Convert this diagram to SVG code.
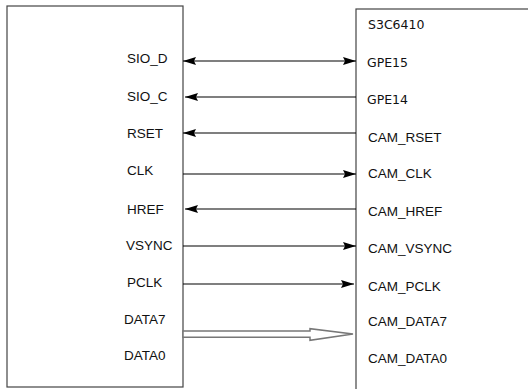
<svg xmlns="http://www.w3.org/2000/svg" width="528" height="389" viewBox="0 0 528 389">
<style>
.box{fill:#fff;stroke:#444;stroke-width:1.2}
.lbl{font-family:"Liberation Sans",Arial,sans-serif;font-size:13.5px;fill:#111}
.dv{font-family:"DejaVu Sans",sans-serif;font-size:12.5px;fill:#111}
.wire{stroke:#000;stroke-width:1.2;fill:none}
</style>
<defs>
<marker id="ah" markerUnits="userSpaceOnUse" markerWidth="13" markerHeight="8" refX="13" refY="4" orient="auto-start-reverse">
<path d="M0,0 L13,4 L0,8 L2,4 z" fill="#000"/>
</marker>
</defs>
<rect width="528" height="389" fill="#fff"/>
<g id="sensor">
<rect class="box" x="7" y="6" width="176" height="381"/>
<text class="lbl" x="127" y="63">SIO_D</text>
<text class="lbl" x="127" y="101">SIO_C</text>
<text class="lbl" x="127" y="138">RSET</text>
<text class="lbl" x="127" y="175">CLK</text>
<text class="lbl" x="127" y="214">HREF</text>
<text class="lbl" x="126" y="250">VSYNC</text>
<text class="lbl" x="127" y="287">PCLK</text>
<text class="lbl" x="124" y="324">DATA7</text>
<text class="lbl" x="124" y="360">DATA0</text>
</g>
<g id="s3c6410">
<rect class="box" x="356" y="9" width="200" height="400"/>
<text class="dv" x="368" y="29">S3C6410</text>
<text class="dv" x="367" y="67">GPE15</text>
<text class="dv" x="367" y="104">GPE14</text>
<text class="lbl" x="368" y="142">CAM_RSET</text>
<text class="lbl" x="368" y="178">CAM_CLK</text>
<text class="lbl" x="368" y="216">CAM_HREF</text>
<text class="lbl" x="368" y="253">CAM_VSYNC</text>
<text class="lbl" x="368" y="291">CAM_PCLK</text>
<text class="lbl" x="368" y="326">CAM_DATA7</text>
<text class="lbl" x="368" y="363">CAM_DATA0</text>
</g>
<g id="connectors">
<line class="wire" x1="183" y1="61" x2="356" y2="61" marker-start="url(#ah)" marker-end="url(#ah)"/>
<line class="wire" x1="356" y1="97" x2="185" y2="97" marker-end="url(#ah)"/>
<line class="wire" x1="356" y1="133" x2="183" y2="133" marker-end="url(#ah)"/>
<line class="wire" x1="183" y1="174" x2="356" y2="174" marker-end="url(#ah)"/>
<line class="wire" x1="356" y1="209" x2="185" y2="209" marker-end="url(#ah)"/>
<line class="wire" x1="183" y1="246" x2="356" y2="246" marker-end="url(#ah)"/>
<line class="wire" x1="183" y1="284" x2="354" y2="284" marker-end="url(#ah)"/>
<polygon points="183,331 310,331 310,328.7 353,334 310,340.3 310,337.3 183,337.3" fill="#fff" stroke="#777" stroke-width="1.5"/>
</g>
</svg>
